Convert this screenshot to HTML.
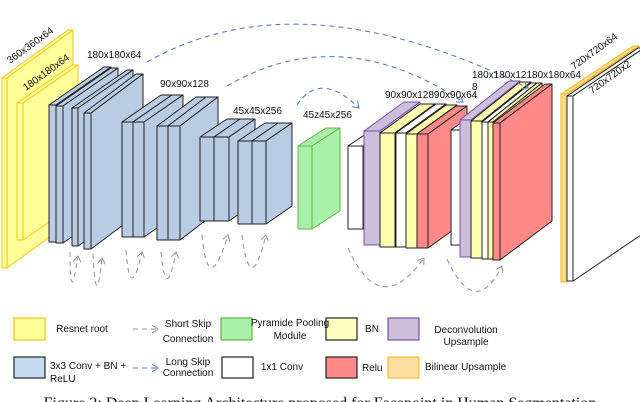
<!DOCTYPE html>
<html><head><meta charset="utf-8"><style>
body{margin:0;background:#fff;width:640px;height:402px;overflow:hidden}
svg{display:block}
text{font-family:"Liberation Sans",Arial,sans-serif;font-size:10px;fill:#111}
</style></head><body>
<svg id="s" width="640" height="402" viewBox="0 0 640 402" xmlns="http://www.w3.org/2000/svg">
<defs>
<marker id="ag" markerWidth="8" markerHeight="8" refX="6" refY="4" orient="auto" markerUnits="userSpaceOnUse"><path d="M0,0 L6,4 L0,8" fill="none" stroke="#999" stroke-width="1"/></marker>
<marker id="ab" markerWidth="8" markerHeight="8" refX="6" refY="4" orient="auto" markerUnits="userSpaceOnUse"><path d="M0,0 L6,4 L0,8" fill="none" stroke="#5b7fbf" stroke-width="1"/></marker>
</defs>
<g id="slabs"></g>
<g fill="none" stroke-dasharray="5,4" stroke-width="1.1">
<path d="M147,62 Q300,-25 528,88" stroke="#5b7fbf" marker-end="url(#ab)"/>
<path d="M227,86 Q340,20 463,102" stroke="#5b7fbf" marker-end="url(#ab)"/>
<path d="M297,105 Q320,70 359,108" stroke="#5b7fbf" marker-end="url(#ab)"/>
<g stroke="#999">
<path d="M70,252 Q70,310 78,256" marker-end="url(#ag)"/>
<path d="M93,254 Q96,315 102,258" marker-end="url(#ag)"/>
<path d="M126,250 Q130,305 142,252" marker-end="url(#ag)"/>
<path d="M161,252 Q166,305 176,252" marker-end="url(#ag)"/>
<path d="M202,235 Q208,300 228,235" marker-end="url(#ag)"/>
<path d="M242,235 Q250,300 266,235" marker-end="url(#ag)"/>
<path d="M348,248 Q380,320 424,258" marker-end="url(#ag)"/>
<path d="M447,259 Q475,320 502,266" marker-end="url(#ag)"/>
<path d="M133,329 L158,329" marker-end="url(#ag)"/>
</g>
<path d="M133,368 L158,368" stroke="#5b7fbf" marker-end="url(#ab)"/>
</g>
<g>
<text transform="translate(10,64) rotate(-36)">360x360x64</text>
<text transform="translate(26,91) rotate(-36)">180x180x64</text>
<text x="87" y="58">180x180x64</text>
<text x="160" y="87">90x90x128</text>
<text x="233" y="114">45x45x256</text>
<text x="303" y="118">45z45x256</text>
<text x="385" y="98">90x90x12890x90x64</text>
<text x="472" y="78">180x180x12180x180x64</text>
<text x="472" y="90">8</text>
<text transform="translate(574,70) rotate(-36)">720x720x64</text>
<text transform="translate(592,94) rotate(-36)">720x720x2</text>
</g>
<g stroke-width="1.2">
<rect x="14" y="318" width="31" height="22" fill="#ffff99" stroke="#f5c518"/>
<rect x="14" y="357" width="31" height="21" fill="#c5d9f1" stroke="#222"/>
<rect x="221" y="318" width="31" height="22" fill="#a8f0a8" stroke="#6ab04c"/>
<rect x="222" y="357" width="31" height="21" fill="#fff" stroke="#222"/>
<rect x="326" y="318" width="31" height="22" fill="#ffffc0" stroke="#222"/>
<rect x="326" y="357" width="31" height="21" fill="#ff8888" stroke="#222"/>
<rect x="388" y="318" width="31" height="22" fill="#cdbfdc" stroke="#7b4fa8"/>
<rect x="388" y="357" width="31" height="21" fill="#ffe0a0" stroke="#f5c030"/>
</g>
<g>
<text x="82" y="332" text-anchor="middle">Resnet root</text>
<text x="188" y="327" text-anchor="middle">Short Skip</text>
<text x="188" y="342" text-anchor="middle">Connection</text>
<text x="290" y="326" text-anchor="middle">Pyramide Pooling</text>
<text x="290" y="339" text-anchor="middle">Module</text>
<text x="372" y="332" text-anchor="middle">BN</text>
<text x="466" y="333" text-anchor="middle">Deconvolution</text>
<text x="466" y="345" text-anchor="middle">Upsample</text>
<text x="50" y="369">3x3 Conv + BN +</text>
<text x="50" y="382">ReLU</text>
<text x="188" y="365" text-anchor="middle">Long Skip</text>
<text x="188" y="376" text-anchor="middle">Connection</text>
<text x="282" y="370" text-anchor="middle">1x1 Conv</text>
<text x="362" y="371">Relu</text>
<text x="425" y="370">Bilinear Upsample</text>
<text x="320" y="408" text-anchor="middle" style="font-family:'Liberation Serif',serif;font-size:16px">Figure 2: Deep Learning Architecture proposed for Facepoint in Human Segmentation</text>
</g>
</svg>
<script>
var B='#b8cce4',K='#222',Y='#ffffb0',W='#fff',R='#ff8888',P='#cdbfdc';
var d=[
[2,78,5,190,66,48,'#ffff99','#f5c518'],[17,103,6,137,55,38,'#ffff99','#f5c518'],
[49,105,7,137,55,38,B,K],[56,106,7,137,55,38,B,K],[72,108,6,138,55,38,B,K],[84,113,7,136,52,39,B,K],
[122,122,11,115,39,27,B,K],[133,122,11,115,39,27,B,K],[157,126,11,114,39,29,B,K],[168,126,12,114,38,29,B,K],
[200,137,14,84,27,18,B,K],[214,137,15,84,26,18,B,K],[238,141,14,83,27,18,B,K],[252,141,14,83,26,18,B,K],
[298,146,14,83,28,18,'#a8f0a8','#6ab04c'],
[348,146,15,83,30,20,W,K],
[364,131,16,114,40,29,P,'#7b4fa8'],[380,133,15,114,40,29,Y,K],[396,133,10,114,40,29,W,K],[406,134,11,114,40,29,Y,K],[417,134,11,114,39,28,R,K],
[451,130,9,115,40,29,W,K],
[460,120,11,137,49,39,P,'#7b4fa8'],[471,121,11,137,49,39,Y,K],[482,122,6,137,49,39,W,K],[488,122,5,137,49,39,Y,K],[493,123,7,137,52,39,R,K],
[561,94,6,188,72,48,'#ffd980','#f5b731'],[567,96,6,185,71,48,W,K]
];
var g=document.getElementById('slabs'),h='';
d.forEach(function(s){var x=s[0],y=s[1],w=s[2],H=s[3],dx=s[4],dy=s[5],f=s[6],k=s[7];
var a='fill="'+f+'" stroke="'+k+'" stroke-width="1" stroke-linejoin="round"';
h+='<polygon '+a+' points="'+x+','+y+' '+(x+dx)+','+(y-dy)+' '+(x+w+dx)+','+(y-dy)+' '+(x+w)+','+y+'"/>';
h+='<polygon '+a+' points="'+(x+w)+','+y+' '+(x+w+dx)+','+(y-dy)+' '+(x+w+dx)+','+(y+H-dy)+' '+(x+w)+','+(y+H)+'"/>';
h+='<rect '+a+' x="'+x+'" y="'+y+'" width="'+w+'" height="'+H+'"/>';});
g.innerHTML=h;
</script>
</body></html>
